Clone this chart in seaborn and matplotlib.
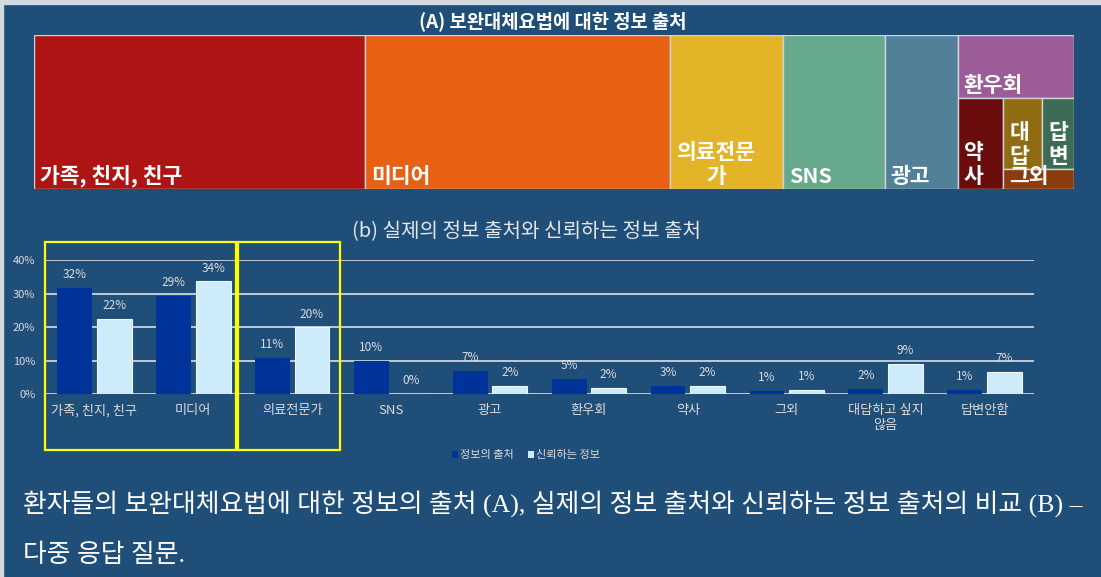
import numpy as np
import pandas as pd
import matplotlib
matplotlib.use('Agg')
import matplotlib.pyplot as plt
import matplotlib.transforms as mtransforms
from matplotlib.patches import Rectangle, Patch
import seaborn as sns

# data
categories = ['가족, 친지, 친구', '미디어', '의료전문가', 'SNS', '광고', '환우회',
              '약사', '그외', '대답하고 싶지\n않음', '답변안함']
source_pct = [31.8, 29.4, 10.8, 9.8, 7.0, 4.6, 2.6, 0.9, 1.7, 1.4]
trusted_pct = [22.3, 33.6, 19.9, 0.0, 2.4, 2.0, 2.4, 1.4, 8.9, 6.7]
series_names = ['정보의 출처', '신뢰하는 정보']

tree_labels = ['가족, 친지, 친구', '미디어', '의료전문\n가', 'SNS', '광고', '환우회',
               '약\n사', '그외', '대\n답', '답\n변']
tree_colors = ['#ae1414', '#e86112', '#e3b428', '#67a98c', '#528099', '#9c5c98',
               '#6b0c0c', '#8a3c0c', '#8f6c12', '#3d6b55']
# nesting of the treemap cells ('h' = side by side, 'v' = stacked)
tree_nest = ('h', [0, 1, 2, 3, 4, ('v', [5, ('h', [6, ('v', [('h', [8, 9]), 7])])])])

yticks = [0, 10, 20, 30, 40]
highlight_spans = [(-0.5, 1.43), (1.45, 2.48)]

BG = '#1f4e79'
TXT = '#dcdcdc'
bar_colors = {'정보의 출처': '#003399', '신뢰하는 정보': '#cdebfb'}

sns.set_theme(style='white')
plt.rcParams['font.family'] = ['Noto Sans CJK KR', 'DejaVu Sans']
plt.rcParams['axes.unicode_minus'] = False

fig = plt.figure(figsize=(11.01, 5.77), dpi=100, facecolor=BG)
fig.patches.append(Rectangle((0, 1 - 4 / 577), 1, 4 / 577, transform=fig.transFigure,
                             color='#d3d9e1', zorder=0))
fig.patches.append(Rectangle((0, 0), 3 / 1101, 1, transform=fig.transFigure,
                             color='#d3d9e1', zorder=0))


def node_total(node):
    if isinstance(node, int):
        return source_pct[node]
    return sum(node_total(k) for k in node[1])


def layout(node, x, y, w, h, out):
    if isinstance(node, int):
        out[node] = (x, y, w, h)
        return
    direction, kids = node
    s = node_total(node)
    if direction == 'h':
        for k in kids:
            kw = w * node_total(k) / s
            layout(k, x, y, kw, h, out)
            x += kw
    else:
        top = y + h
        for k in kids:
            kh = h * node_total(k) / s
            top -= kh
            layout(k, x, top, w, kh, out)


# (A) treemap
ax_t = fig.add_axes([34 / 1101, 1 - 189 / 577, 1040 / 1101, 154 / 577])
ax_t.set_xlim(0, 1)
ax_t.set_ylim(0, 1)
ax_t.axis('off')
cells = {}
layout(tree_nest, 0, 0, 1, 1, cells)
for i, (x, y, w, h) in cells.items():
    ax_t.add_patch(Rectangle((x, y), w, h, facecolor=tree_colors[i],
                             edgecolor='#cfd3da', linewidth=1.0))
    ax_t.annotate(tree_labels[i], xy=(x, y), xytext=(6, 2), textcoords='offset pixels',
                  ha='left', va='bottom', multialignment='center', color='white',
                  fontsize=15.5, fontweight='bold', linespacing=1.15)

fig.text(553 / 1101, 1 - 21 / 577, '(A) 보완대체요법에 대한 정보 출처', ha='center',
         va='center', color='white', fontsize=13.5, fontweight='bold')

# (b) grouped bars
df = pd.DataFrame({
    'category': categories * 2,
    'series': np.repeat(series_names, len(categories)),
    'pct': source_pct + trusted_pct,
})

ax = fig.add_axes([45 / 1101, 1 - 394.3 / 577, 989 / 1101, 134.3 / 577])
ax.set_facecolor(BG)
sns.barplot(data=df, x='category', y='pct', hue='series', hue_order=series_names,
            order=categories, palette=bar_colors, saturation=1, width=0.8, gap=0.12,
            legend=False, ax=ax, zorder=3, linewidth=0)

# light bars get a thin outline
for p in ax.containers[1]:
    p.set_edgecolor('#eef8ff')
    p.set_linewidth(0.8)

for cont, vals in zip(ax.containers, [source_pct, trusted_pct]):
    ax.bar_label(cont, labels=[f'{v:.0f}%' for v in vals], padding=5,
                 color=TXT, fontsize=8.5)

ax.set_ylim(0, 40)
ax.set_xlim(-0.5, len(categories) - 0.5)
ax.set_yticks(yticks)
ax.set_yticklabels([f'{t}%' for t in yticks])
ax.yaxis.grid(True, color='#c9d3df', linewidth=1.3, zorder=1)
ax.set_axisbelow(True)
for s in ax.spines.values():
    s.set_visible(False)
ax.tick_params(axis='x', length=0, pad=7, labelsize=9.5, labelcolor=TXT)
ax.tick_params(axis='y', length=0, pad=7, labelsize=8, labelcolor=TXT)
ax.set_xlabel('')
ax.set_ylabel('')

# yellow highlight boxes
trans = mtransforms.blended_transform_factory(ax.transData, ax.transAxes)
for x0, x1 in highlight_spans:
    ax.add_patch(Rectangle((x0, -0.415), x1 - x0, 1.549, transform=trans,
                           fill=False, edgecolor='#ffff00', linewidth=1.6,
                           clip_on=False, zorder=5))

fig.text(526 / 1101, 1 - 232 / 577, '(b) 실제의 정보 출처와 신뢰하는 정보 출처',
         ha='center', va='center', color='#e6e6e6', fontsize=14.5)

handles = [Patch(facecolor=bar_colors[n], edgecolor='none') for n in series_names]
fig.legend(handles, series_names, loc='center', bbox_to_anchor=(526 / 1101, 1 - 455 / 577),
           ncol=2, frameon=False, fontsize=8, labelcolor=TXT, handlelength=0.6,
           handleheight=0.6, handletextpad=0.2, columnspacing=1.2)

# caption
cap_font = ['Liberation Serif', 'Noto Sans CJK KR']
fig.text(23 / 1101, 1 - 504 / 577,
         '환자들의 보완대체요법에 대한 정보의 출처 (A), 실제의 정보 출처와 신뢰하는 정보 출처의 비교 (B) –',
         ha='left', va='center', color='white', fontsize=18.6, family=cap_font)
fig.text(23 / 1101, 1 - 555 / 577, '다중 응답 질문.', ha='left', va='center',
         color='white', fontsize=18.6, family=cap_font)

plt.savefig('out.png', dpi=100, facecolor=fig.get_facecolor())
plt.close()
